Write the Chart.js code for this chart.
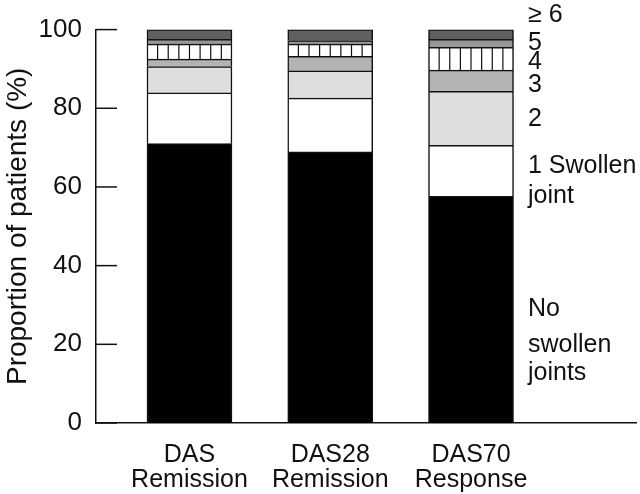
<!DOCTYPE html>
<html>
<head>
<meta charset="utf-8">
<script src="https://cdn.jsdelivr.net/npm/chart.js@4"></script>
<style>
  html, body { margin: 0; padding: 0; background: #fff; }
  #wrap { width: 640px; height: 494px; }
</style>
</head>
<body>
<div id="wrap"><canvas id="c" width="640" height="494"></canvas></div>
<script>
// ---- data ----
const categories = [['DAS', 'Remission'], ['DAS28', 'Remission'], ['DAS70', 'Response']];
const noSwollen = [71.0, 68.9, 57.6];
const oneJoint  = [12.9, 13.7, 13.0];
const twoJoints = [6.7, 6.9, 13.7];
const threeJoints = [1.9, 3.7, 5.4];
const fourJoints  = [3.8, 3.1, 5.8];
const fiveJoints  = [1.2, 0.9, 2.0];
const sixPlus     = [2.5, 2.8, 2.5];
const yTicks = [0, 20, 40, 60, 80, 100];
const sideLabels = [
  { text: '\u2265 6', v: 102.0 },
  { text: '5', v: 94.9 },
  { text: '4', v: 89.9 },
  { text: '3', v: 84.05 },
  { text: '2', v: 75.4 },
  { text: '1 Swollen', v: 63.5 },
  { text: 'joint', v: 56.0 },
  { text: 'No', v: 27.3 },
  { text: 'swollen', v: 18.0 },
  { text: 'joints', v: 10.9 }
];

const FONT = '"Liberation Sans", Arial, sans-serif';
const toPts = arr => arr.map((v, i) => ({ x: i + 1, y: v }));

function ds(label, values, color) {
  return {
    label, data: toPts(values),
    backgroundColor: color,
    borderColor: '#111',
    borderWidth: 1.5,
    barThickness: 85
  };
}

const datasets = [
  ds('No swollen joints', noSwollen, '#000000'),
  ds('1 Swollen joint', oneJoint, '#ffffff'),
  ds('2', twoJoints, '#dedede'),
  ds('3', threeJoints, '#b3b3b3'),
  ds('4', fourJoints, '#ffffff'),
  ds('5', fiveJoints, '#969696'),
  ds('\u2265 6', sixPlus, '#606060')
];
const HATCH_INDEX = 4;

const decor = {
  id: 'decor',
  afterDatasetsDraw(chart) {
    const ctx = chart.ctx;
    const meta = chart.getDatasetMeta(HATCH_INDEX);
    ctx.save();
    ctx.strokeStyle = '#111';
    ctx.lineWidth = 1.2;
    meta.data.forEach(el => {
      const p = el.getProps(['x', 'y', 'base', 'width'], true);
      const left = p.x - p.width / 2, w = p.width;
      const top = Math.min(p.y, p.base), bot = Math.max(p.y, p.base);
      for (let k = 1; k < 8; k++) {
        const xx = left + w * k / 8;
        ctx.beginPath();
        ctx.moveTo(xx, top);
        ctx.lineTo(xx, bot);
        ctx.stroke();
      }
    });
    // inward y ticks
    const ys = chart.scales.y;
    ctx.strokeStyle = '#111';
    ctx.lineWidth = 1.5;
    yTicks.forEach(t => {
      const py = ys.getPixelForValue(t);
      ctx.beginPath();
      ctx.moveTo(ys.right, py);
      ctx.lineTo(ys.right + 21, py);
      ctx.stroke();
    });
    // side labels
    ctx.fillStyle = '#111';
    ctx.font = '25px ' + FONT;
    ctx.textAlign = 'left';
    ctx.textBaseline = 'alphabetic';
    sideLabels.forEach(l => {
      ctx.fillText(l.text, 528, ys.getPixelForValue(l.v));
    });
    ctx.restore();
  }
};

new Chart(document.getElementById('c'), {
  type: 'bar',
  data: { datasets },
  options: {
    responsive: false,
    animation: false,
    events: [],
    layout: { padding: { top: 28, right: 4, left: 0, bottom: 0 } },
    plugins: { legend: { display: false }, tooltip: { enabled: false } },
    scales: {
      x: {
        type: 'linear',
        stacked: true,
        offset: false,
        min: 0.336,
        max: 4.172,
        grid: { display: false, drawTicks: false },
        border: { display: true, color: '#111', width: 1.5 },
        afterBuildTicks: s => { s.ticks = [1, 2, 3].map(v => ({ value: v })); },
        afterFit: s => { s.height = 71; },
        ticks: {
          autoSkip: false,
          maxRotation: 0,
          padding: 20,
          color: '#111',
          font: { family: FONT, size: 25, lineHeight: 0.98 },
          callback: v => categories[v - 1] || ''
        }
      },
      y: {
        stacked: true,
        min: 0,
        max: 100,
        grid: { display: false, drawTicks: false },
        border: { display: true, color: '#111', width: 1.5 },
        afterFit: s => { s.width = 96; },
        afterBuildTicks: s => { s.ticks = yTicks.map(v => ({ value: v })); },
        ticks: {
          padding: 14,
          color: '#111',
          font: { family: FONT, size: 26 }
        },
        title: {
          display: true,
          text: 'Proportion of patients (%)',
          color: '#111',
          font: { family: FONT, size: 28, lineHeight: 1.2 },
          padding: { top: 1, bottom: 0 }
        }
      }
    }
  },
  plugins: [decor]
});
</script>
</body>
</html>
